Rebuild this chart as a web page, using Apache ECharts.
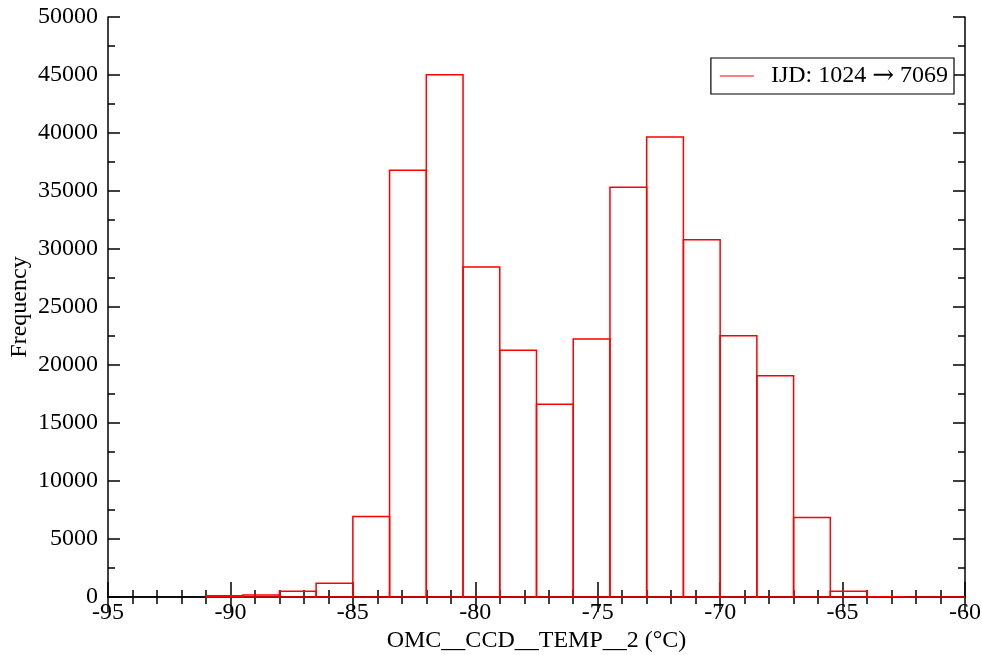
<!DOCTYPE html>
<html>
<head>
<meta charset="utf-8">
<script src="https://cdn.jsdelivr.net/npm/echarts@6/dist/echarts.min.js"></script>
<style>
html,body{margin:0;padding:0;background:#fff;}
#chart{width:982px;height:655px;}
</style>
</head>
<body>
<div id="chart"></div>
<script>
// Histogram data
var binLeft = [-91, -89.5, -88, -86.5, -85, -83.5, -82, -80.5, -79, -77.5, -76, -74.5, -73, -71.5, -70, -68.5, -67, -65.5, -64, -62.5, -61];
var binWidth = 1.5;
var counts = [100, 180, 490, 1180, 6950, 36780, 45020, 28450, 21270, 16610, 22240, 35320, 39650, 30800, 22530, 19080, 6850, 490, 20, 0, 0];
var seriesName = 'IJD: 1024 \u2192 7069';
var legendParts = ['IJD: 1024 ', '\u2192', ' 7069'];
var xName = 'OMC__CCD__TEMP__2 (\u00B0C)';
var yName = 'Frequency';
var xMin = -95, xMax = -60, xStep = 5;
var yMin = 0, yMax = 50000, yStep = 5000;

var data = binLeft.map(function (l, i) { return [l, l + binWidth, counts[i]]; });

var font = 'Liberation Serif';
var fs = 24;
var chart = echarts.init(document.getElementById('chart'), null, {renderer: 'canvas'});

function plain(v) { return String(v); }

var xBase = {
  type: 'value', min: xMin, max: xMax, interval: xStep,
  axisLine: {show: true, lineStyle: {color: '#000', width: 1.5}},
  splitLine: {show: false},
  axisTick: {show: true, inside: true, length: 15, lineStyle: {color: '#000', width: 1.5}},
  minorTick: {show: true, splitNumber: 5, length: 7, lineStyle: {color: '#000', width: 1.5}}
};
var yBase = {
  type: 'value', min: yMin, max: yMax, interval: yStep,
  axisLine: {show: true, lineStyle: {color: '#000', width: 1.5}},
  splitLine: {show: false},
  axisTick: {show: true, inside: true, length: 12, lineStyle: {color: '#000', width: 1.5}},
  minorTick: {show: true, splitNumber: 2, length: 7, lineStyle: {color: '#000', width: 1.5}}
};

var option = {
  backgroundColor: '#fff',
  animation: false,
  grid: {left: 108, right: 17, top: 17, bottom: 58, containLabel: false, outerBoundsMode: 'none'},
  legend: {
    show: true,
    right: 28, top: 58,
    data: [{name: seriesName, icon: 'path://M0,0H30V1H0Z'}],
    itemWidth: 34, itemHeight: 1.5,
    padding: [5, 6, 5, 9],
    borderColor: '#000', borderWidth: 1.2,
    backgroundColor: '#fff',
    formatter: function () {
      return '{a|' + legendParts[0] + '}{b|' + legendParts[1] + '}{a|' + legendParts[2] + '}';
    },
    textStyle: {
      color: '#000', fontFamily: font, fontSize: fs, padding: [0, 0, 0, 12],
      rich: {
        a: {color: '#000', fontFamily: font, fontSize: fs},
        b: {color: '#000', fontFamily: 'DejaVu Serif', fontSize: fs + 2}
      }
    }
  },
  xAxis: [
    Object.assign({}, xBase, {
      position: 'bottom', name: xName, nameLocation: 'middle', nameGap: 32,
      nameMoveOverlap: false,
      nameTextStyle: {color: '#000', fontFamily: font, fontSize: fs},
      axisLabel: {show: true, color: '#000', fontFamily: font, fontSize: fs, margin: 4, formatter: plain}
    }),
    Object.assign({}, xBase, {position: 'top', axisLabel: {show: false}})
  ],
  yAxis: [
    Object.assign({}, yBase, {
      position: 'left', name: yName, nameLocation: 'middle', nameGap: 76,
      nameMoveOverlap: false,
      nameTextStyle: {color: '#000', fontFamily: font, fontSize: fs},
      axisLabel: {show: true, color: '#000', fontFamily: font, fontSize: fs, margin: 10, formatter: plain}
    }),
    Object.assign({}, yBase, {position: 'right', axisLabel: {show: false}})
  ],
  series: [{
    name: seriesName,
    type: 'custom',
    xAxisIndex: 0, yAxisIndex: 0,
    itemStyle: {color: '#ff0000'},
    renderItem: function (params, api) {
      var p0 = api.coord([api.value(0), 0]);
      var p1 = api.coord([api.value(1), api.value(2)]);
      var cs = params.coordSys;
      var x0 = Math.max(p0[0], cs.x);
      var x1 = Math.min(p1[0], cs.x + cs.width);
      return {
        type: 'rect',
        shape: {x: x0, y: p1[1], width: x1 - x0, height: p0[1] - p1[1]},
        style: {fill: 'none', stroke: '#ff0000', lineWidth: 1.5}
      };
    },
    encode: {x: [0, 1], y: 2},
    data: data,
    z: 1
  }]
};
chart.setOption(option);
</script>
</body>
</html>
